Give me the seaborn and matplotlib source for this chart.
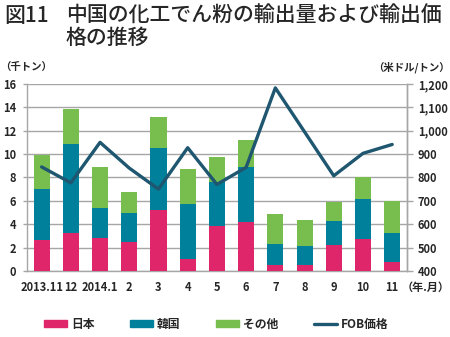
import numpy as np
import pandas as pd
import matplotlib
matplotlib.use("Agg")
import matplotlib.pyplot as plt
from matplotlib.patches import Rectangle
from matplotlib.lines import Line2D
from matplotlib.ticker import FuncFormatter, MultipleLocator
import seaborn as sns

# 輸出量（千トン）と輸出価格（米ドル/トン）
months = ["2013.11", "12", "2014.1", "2", "3", "4", "5", "6", "7", "8", "9", "10", "11"]
japan = [2.65, 3.27, 2.80, 2.48, 5.18, 1.00, 3.82, 4.16, 0.54, 0.49, 2.20, 2.71, 0.74]
korea = [4.38, 7.61, 2.61, 2.51, 5.36, 4.70, 3.81, 4.70, 1.74, 1.67, 2.07, 3.44, 2.53]
others = [2.85, 2.97, 3.45, 1.76, 2.62, 2.99, 2.09, 2.34, 2.59, 2.17, 1.63, 1.85, 2.71]
fob_price = [845, 777, 950, 840, 750, 927, 770, 843, 1183, 995, 807, 903, 941]

C_JP = "#E0266B"
C_KR = "#00809A"
C_OT = "#77BE4E"
C_LINE = "#1F5670"
GRID = "#A6A6A6"
TICK_FS = 8

sns.set_theme(style="white")
plt.rcParams["font.family"] = ["Noto Sans CJK JP", "DejaVu Sans"]

df = pd.DataFrame({"month": months, "japan": japan, "korea": korea, "others": others})
df["jk"] = df["japan"] + df["korea"]
df["total"] = df["jk"] + df["others"]

fig = plt.figure(figsize=(4.5, 3.37), dpi=100)
ax = fig.add_axes([0.06, 0.196, 0.844, 0.555])

# 積み上げ棒：合計→日本+韓国→日本の順に重ねて描く
for col, c in [("total", C_OT), ("jk", C_KR), ("japan", C_JP)]:
    sns.barplot(data=df, x="month", y=col, order=months, color=c, width=0.55,
                saturation=1, linewidth=0, ax=ax, zorder=3)

ax.set_ylim(0, 16)
ax.yaxis.set_major_locator(MultipleLocator(2))
ax.set_xlim(-0.5, len(months) - 0.5)
ax.set_xlabel("")
ax.set_ylabel("")
ax.grid(axis="y", color=GRID, linewidth=1.0, zorder=0)
ax.set_axisbelow(True)
ax.spines["top"].set_visible(False)
for s in ["left", "bottom", "right"]:
    ax.spines[s].set_color(GRID)
    ax.spines[s].set_linewidth(1.0)
ax.set_xticks(np.arange(len(months)))
ax.set_xticklabels(months)
ax.set_xticks(np.arange(len(months) + 1) - 0.5, minor=True)
ax.tick_params(axis="x", which="major", length=0, pad=7, labelsize=TICK_FS)
ax.tick_params(axis="x", which="minor", length=4, color=GRID, width=1)
ax.tick_params(axis="y", length=3, color=GRID, width=1, pad=5, labelsize=TICK_FS)
for t in ax.get_xticklabels() + ax.get_yticklabels():
    t.set_fontweight("bold")

# 輸出価格（右軸）
ax2 = ax.twinx()
sns.lineplot(x=np.arange(len(months)), y=fob_price, color=C_LINE, linewidth=2.4,
             ax=ax2, zorder=5)
ax2.set_ylim(400, 1200)
ax2.yaxis.set_major_locator(MultipleLocator(100))
ax2.yaxis.set_major_formatter(FuncFormatter(lambda v, p: f"{int(v):,}"))
ax2.set_xlim(-0.5, len(months) - 0.5)
ax2.grid(False)
for s in ["top", "left", "bottom"]:
    ax2.spines[s].set_visible(False)
ax2.spines["right"].set_color(GRID)
ax2.spines["right"].set_linewidth(1.0)
ax2.tick_params(axis="y", length=4, color=GRID, width=1, pad=4, labelsize=TICK_FS)
for t in ax2.get_yticklabels():
    t.set_fontweight("bold")

# タイトルと単位
fig.text(0.009, 0.985, "図11", fontsize=15, va="top", ha="left", fontweight="medium")
fig.text(0.146, 0.985, "中国の化工でん粉の輸出量および輸出価\n格の推移", fontsize=15,
         va="top", ha="left", fontweight="medium", linespacing=1.0)
fig.text(0.0, 0.8, "（千トン）", fontsize=7.5, va="center", ha="left", fontweight="bold")
fig.text(1.0, 0.8, "（米ドル/トン）", fontsize=7.5, va="center", ha="right", fontweight="bold")
fig.text(1.0, 0.148, "（年.月）", fontsize=8, va="center", ha="right", fontweight="bold")

handles = [Rectangle((0, 0), 1, 1, color=C_JP), Rectangle((0, 0), 1, 1, color=C_KR),
           Rectangle((0, 0), 1, 1, color=C_OT), Line2D([0], [0], color=C_LINE, linewidth=2.4)]
labels = ["日本", "韓国", "その他", "FOB価格"]
leg = fig.legend(handles, labels, loc="center", bbox_to_anchor=(0.48, 0.037), ncol=4,
                 frameon=False, fontsize=8.5, handlelength=2.0, handleheight=0.55,
                 columnspacing=3.0, handletextpad=0.3)
for t in leg.get_texts():
    t.set_fontweight("bold")

fig.savefig("out.png", dpi=100)
